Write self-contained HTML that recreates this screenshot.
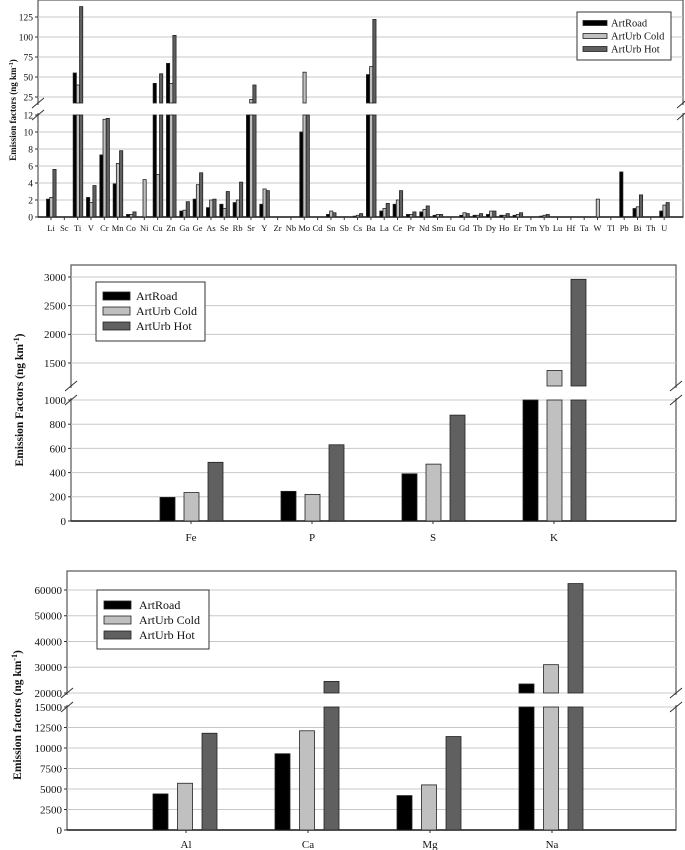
<!DOCTYPE html>
<html><head><meta charset="utf-8"><style>
html,body{margin:0;padding:0;background:#fff}
svg{display:block;font-family:"Liberation Serif",serif}
</style></head><body>
<svg id="chart" width="685" height="850" viewBox="0 0 685 850" xmlns="http://www.w3.org/2000/svg"></svg>
<script>
// ---------- Chart 1 data ----------
const topCats = ["Li","Sc","Ti","V","Cr","Mn","Co","Ni","Cu","Zn","Ga","Ge","As","Se","Rb","Sr","Y","Zr","Nb","Mo","Cd","Sn","Sb","Cs","Ba","La","Ce","Pr","Nd","Sm","Eu","Gd","Tb","Dy","Ho","Er","Tm","Yb","Lu","Hf","Ta","W","Tl","Pb","Bi","Th","U"];
const topArtRoad = [2.1,0,55,2.3,7.3,3.9,0.3,0,42,67,0.7,2.1,1.1,1.5,1.7,12,1.5,0,0,10,0,0.3,0,0.1,53,0.7,1.5,0.3,0.6,0.2,0,0.2,0.2,0.3,0.2,0.2,0,0.1,0,0,0,0,0,5.3,1.0,0,0.7];
const topArtUrbCold = [2.3,0,40,1.7,11.5,6.3,0.3,4.4,5,42,0.8,3.8,2.0,1.0,2.0,22,3.3,0,0,56,0,0.7,0,0.2,63,1.0,2.0,0.3,0.9,0.3,0,0.5,0.2,0.7,0.2,0.3,0,0.2,0,0,0,2.1,0,0,1.2,0,1.4];
const topArtUrbHot = [5.6,0,138,3.7,11.6,7.8,0.6,0,54,102,1.8,5.2,2.1,3.0,4.1,40,3.1,0,0,15,0,0.5,0,0.4,122,1.6,3.1,0.6,1.3,0.3,0,0.4,0.4,0.7,0.4,0.5,0,0.3,0,0,0,0,0,0,2.6,0,1.7];
const topLowerTicks = [0,2,4,6,8,10,12];
const topUpperTicks = [25,50,75,100,125];
// ---------- Chart 2 data ----------
const midCats = ["Fe","P","S","K"];
const midArtRoad = [195,245,390,1000];
const midArtUrbCold = [235,220,470,1370];
const midArtUrbHot = [485,630,875,2960];
const midLowerTicks = [0,200,400,600,800,1000];
const midUpperTicks = [1500,2000,2500,3000];
// ---------- Chart 3 data ----------
const botCats = ["Al","Ca","Mg","Na"];
const botArtRoad = [4400,9300,4200,23500];
const botArtUrbCold = [5700,12100,5500,31000];
const botArtUrbHot = [11800,24500,11400,62500];
const botLowerTicks = [0,2500,5000,7500,10000,12500,15000];
const botUpperTicks = [20000,30000,40000,50000,60000];
const seriesNames = ["ArtRoad","ArtUrb Cold","ArtUrb Hot"];

const NS="http://www.w3.org/2000/svg";
const svg=document.getElementById('chart');
function mk(tag,attrs,parent,txt){const e=document.createElementNS(NS,tag);for(const k in attrs)e.setAttribute(k,attrs[k]);if(txt!==undefined)e.textContent=txt;(parent||svg).appendChild(e);return e;}
const fills=["#000000","#c0c0c0","#606060"];

function drawChart(c){
  const g=mk('g',{});
  
  
  // scales
  const yLow=v=>c.y0-(v/c.lmax)*(c.y0-c.yLmax);
  const yUp=v=>c.uy1-(v-c.u1)*(c.uy1-c.uy2)/(c.u2-c.u1);
  const uCut=c.u1-(c.uBot-c.uy1)*(c.u2-c.u1)/(c.uy1-c.uy2);
  const xC=i=>c.x0+i*c.step;
  // frame
  const fr=mk('rect',{x:c.fl,y:c.ft,width:c.frr-c.fl,height:c.y0-c.ft,fill:'none',stroke:'#555','stroke-width':1.2},g);
  
  // gridlines and ticks
  const all=[...c.lt.map(v=>[v,yLow(v)]),...c.ut.map(v=>[v,yUp(v)])];
  all.forEach(([v,y])=>{
    if(v!==0){const gl=mk('line',{x1:c.fl,x2:c.frr,y1:y,y2:y,stroke:'#c8c8c8','stroke-width':1},g);
      }
    mk('line',{x1:c.fl-3,x2:c.fl,y1:y,y2:y,stroke:'#333'},g);
    const t=mk('text',{x:c.fl-5,y:y+c.fs*0.35,'text-anchor':'end','font-size':c.fs,fill:'#111'},g,String(v));
    
  });
  // break gap: white out axis between panels
  mk('rect',{x:c.fl-1.5,y:c.uBot+2,width:3,height:c.yLmax-c.uBot-4,fill:'#fff'},g);
  mk('rect',{x:c.frr-1.5,y:c.uBot+2,width:3,height:c.yLmax-c.uBot-4,fill:'#fff'},g);
  [c.uBot,c.yLmax].forEach(y=>{[c.fl,c.frr].forEach(x=>{
    const b=mk('line',{x1:x-6,y1:y+5,x2:x+6,y2:y-5,stroke:'#333','stroke-width':1},g);
    
  });});
  // x axis
  mk('line',{x1:c.fl,x2:c.frr,y1:c.y0,y2:c.y0,stroke:'#222','stroke-width':1.5},g);
  // bars
  const series=[c.a,c.b,c.h];
  c.cats.forEach((cat,i)=>{
    const cx=xC(i);
    series.forEach((vals,s)=>{
      const v=vals[i]; if(!(v>0))return;
      const x=cx+c.bo+s*c.bs;
      const yt=v>c.lmax?c.yLmax:yLow(v);
      const r=mk('rect',{x:x,y:yt,width:c.bw,height:c.y0-yt,fill:fills[s],stroke:'#222','stroke-width':0.8},g);
      
      
      if(v>uCut){const yu=yUp(v);
        const r2=mk('rect',{x:x,y:yu,width:c.bw,height:c.uBot-yu,fill:fills[s],stroke:'#222','stroke-width':0.8},g);
        
        }
    });
    const t=mk('text',{x:cx,y:c.ly,'text-anchor':'middle','font-size':c.xfs,fill:'#111'},g,cat);
    
    mk('line',{x1:cx,x2:cx,y1:c.y0,y2:c.y0+3,stroke:'#333'},g);
  });
  // y title
  const yt=mk('text',{x:0,y:0,transform:`translate(${c.tx},${c.ty}) rotate(-90)`,'text-anchor':'middle','font-size':c.tfs,'font-weight':'bold',fill:'#111'},g);
  
  yt.appendChild(document.createTextNode(c.title+' (ng km'));
  const sup=mk('tspan',{'baseline-shift':'super','font-size':c.tfs*0.7},yt,'-1');
  mk('tspan',{},yt,')');
  // legend
  const L=c.leg;
  const lg=mk('g',{},g);
  
  mk('rect',{x:L.x,y:L.y,width:L.w,height:L.h,fill:'#fff',stroke:'#333','stroke-width':1},lg);
  seriesNames.forEach((n,s)=>{
    const ry=L.y+L.r0+s*L.rs;
    const e=mk('g',{},lg);
    
    mk('rect',{x:L.x+L.sx,y:ry-L.sh/2,width:L.sw,height:L.sh,fill:fills[s],stroke:'#222','stroke-width':0.8},e);
    mk('text',{x:L.x+L.tx,y:ry+L.fs*0.35,'font-size':L.fs,fill:'#111'},e,n);
  });
}

drawChart({name:'trace-elements-chart',cats:topCats,a:topArtRoad,b:topArtUrbCold,h:topArtUrbHot,lt:topLowerTicks,ut:topUpperTicks,
  fl:38,frr:683,ft:0,y0:217,lmax:12,yLmax:115,u1:25,uy1:97,u2:125,uy2:17,uBot:103,
  x0:51,step:13.33,bo:-4.5,bs:3.2,bw:3.2,ly:231,xfs:8.5,fs:9.5,tx:16,ty:110,tfs:9,title:'Emission factors',
  leg:{x:577,y:12,w:94,h:48,r0:11,rs:13,sx:6,sw:24,sh:5,tx:34,fs:10.5}});

drawChart({name:'major-elements-chart',cats:midCats,a:midArtRoad,b:midArtUrbCold,h:midArtUrbHot,lt:midLowerTicks,ut:midUpperTicks,
  fl:71,frr:676,ft:265,y0:521,lmax:1000,yLmax:400,u1:1500,uy1:363,u2:3000,uy2:277,uBot:386,
  x0:191,step:121,bo:-31,bs:24,bw:15,ly:541,xfs:11,fs:11,tx:23,ty:400,tfs:11.5,title:'Emission Factors',
  leg:{x:96,y:282,w:109,h:59,r0:14,rs:15,sx:7,sw:27,sh:8,tx:40,fs:12}});

drawChart({name:'crustal-elements-chart',cats:botCats,a:botArtRoad,b:botArtUrbCold,h:botArtUrbHot,lt:botLowerTicks,ut:botUpperTicks,
  fl:67,frr:676,ft:571,y0:830,lmax:15000,yLmax:707,u1:20000,uy1:693,u2:60000,uy2:590,uBot:693,
  x0:186,step:122,bo:-33,bs:24.5,bw:15,ly:848,xfs:11,fs:11,tx:21,ty:715,tfs:11.5,title:'Emission factors',
  leg:{x:97,y:590,w:112,h:59,r0:15,rs:15,sx:7,sw:27,sh:8,tx:42,fs:12}});
</script>
</body></html>
